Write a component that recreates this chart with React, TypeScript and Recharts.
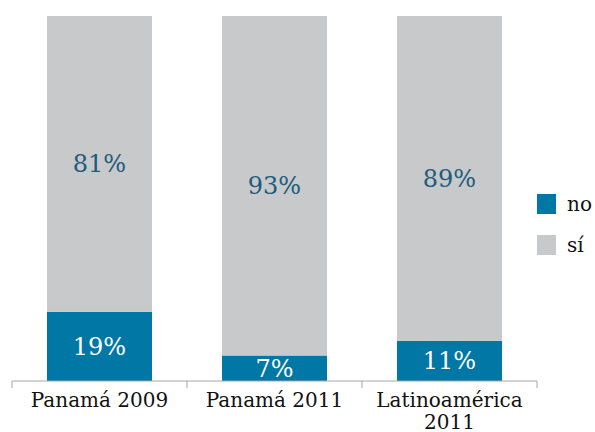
import { BarChart, Bar, XAxis, YAxis, LabelList, Legend } from "recharts";

const categories = ["Panamá 2009", "Panamá 2011", "Latinoamérica 2011"];
const noValues = [19, 7, 11];
const siValues = [81, 93, 89];

const BLUE = "#0077a4";
const GRAY = "#c8c9cb";
const AXIS = "#a6a6a6";
const FONT = "'DejaVu Serif', serif";

const data = categories.map((name, i) => ({
  name,
  no: noValues[i],
  si: siValues[i],
}));

// label plus the tick marks at the category boundaries
function CategoryTick(props: any) {
  const { x, y, payload, index } = props;
  const count = props.visibleTicksCount || categories.length;
  const band = (props.width || 525) / count;
  const label: string = payload.value;
  const lines = label === "Latinoamérica 2011" ? ["Latinoamérica", "2011"] : [label];
  return (
    <g>
      <line x1={x - band / 2} x2={x - band / 2} y1={y} y2={y + 7} stroke={AXIS} />
      {index === count - 1 && (
        <line x1={x + band / 2} x2={x + band / 2} y1={y} y2={y + 7} stroke={AXIS} />
      )}
      <text x={x} y={y} textAnchor="middle" fontFamily={FONT} fontSize={20} fill="#111">
        {lines.map((l, i) => (
          <tspan key={i} x={x} dy={i === 0 ? 26 : 22}>
            {l}
          </tspan>
        ))}
      </text>
    </g>
  );
}

function LegendBox() {
  const items = [
    { name: "no", color: BLUE },
    { name: "sí", color: GRAY },
  ];
  return (
    <div style={{ fontFamily: FONT, fontSize: 20, color: "#111" }}>
      {items.map((it) => (
        <div key={it.name} style={{ display: "flex", alignItems: "center", height: 41 }}>
          <div style={{ width: 19, height: 20, background: it.color, marginRight: 11 }} />
          {it.name}
        </div>
      ))}
    </div>
  );
}

export default function App() {
  return (
    <div style={{ position: "absolute", left: 0, top: 0, background: "#fff" }}>
      <BarChart
        width={595}
        height={432}
        data={data}
        margin={{ top: 16, right: 0, bottom: 0, left: 12 }}
        barCategoryGap="20%"
      >
        <YAxis hide domain={[0, 100]} />
        <XAxis
          dataKey="name"
          height={51}
          stroke={AXIS}
          tickLine={false}
          tickSize={0}
          tickMargin={0}
          interval={0}
          tick={<CategoryTick />}
        />
        <Legend
          layout="vertical"
          align="right"
          verticalAlign="middle"
          wrapperStyle={{ width: 58, top: 183 }}
          content={<LegendBox />}
        />
        <Bar dataKey="no" stackId="a" fill={BLUE} isAnimationActive={false}>
          <LabelList
            dataKey="no"
            position="center"
            formatter={(v: any) => `${v}%`}
            fill="#ffffff"
            fontFamily={FONT}
            fontSize={24}
          />
        </Bar>
        <Bar dataKey="si" stackId="a" fill={GRAY} isAnimationActive={false}>
          <LabelList
            dataKey="si"
            position="center"
            formatter={(v: any) => `${v}%`}
            fill="#1d5c7c"
            fontFamily={FONT}
            fontSize={24}
          />
        </Bar>
      </BarChart>
    </div>
  );
}
